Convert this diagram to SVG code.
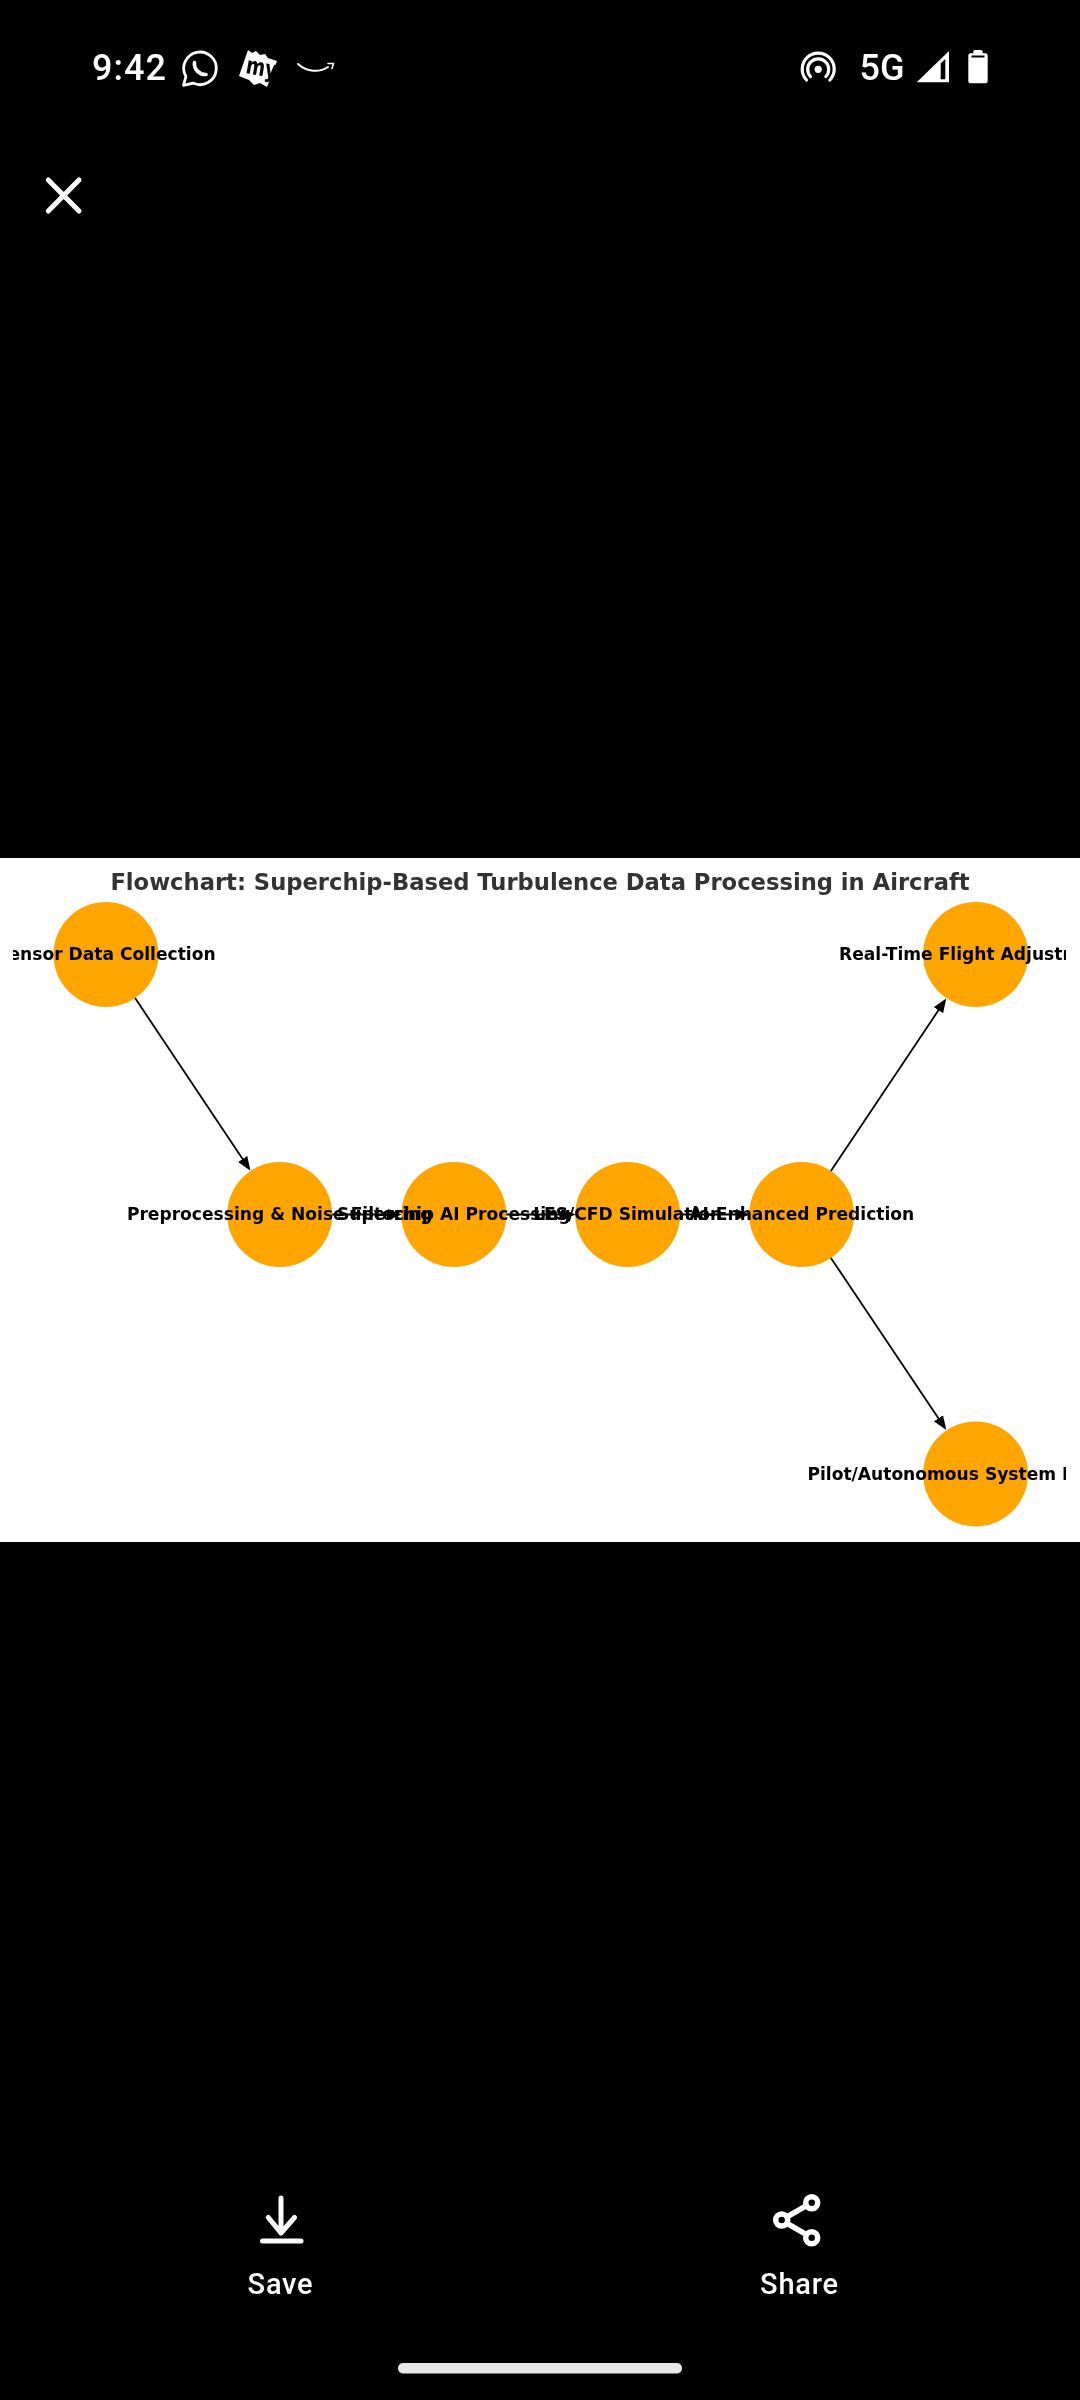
<svg xmlns="http://www.w3.org/2000/svg" width="1080" height="2400" viewBox="0 0 1080 2400">
<style>
.ui{font-family:Roboto,"Liberation Sans",sans-serif;fill:#fff}
.status{font-size:36px;font-weight:500}
.btn{font-size:29px;font-weight:500;text-anchor:middle;letter-spacing:.8px}
.ico{fill:none;stroke:#fff;stroke-linecap:round;stroke-linejoin:round}
.node circle{fill:#ffa500;mix-blend-mode:multiply}
.node text{font-family:"DejaVu Sans",sans-serif;font-size:17.1px;font-weight:700;fill:#000;text-anchor:middle;clip-path:url(#axes)}
.title{font-family:"DejaVu Sans",sans-serif;font-size:22.65px;font-weight:700;fill:#333;text-anchor:middle}
.edge{stroke:#000;stroke-width:1.8;fill:none;marker-end:url(#head)}
</style>
<defs>
<marker id="head" markerUnits="userSpaceOnUse" markerWidth="16" markerHeight="13" refX="11" refY="5.5" orient="auto"><path d="M0,0L14,5.5L0,11Z" fill="#000"/></marker>
<clipPath id="axes" clipPathUnits="userSpaceOnUse"><rect x="13" y="858" width="1053" height="684"/></clipPath>
</defs>
<rect width="1080" height="2400" fill="#000"/>
<g id="status-bar">
<text class="ui status" x="92" y="80" letter-spacing="1">9:42</text>
<g id="icon-whatsapp"><path class="ico" stroke-width="2.8" d="M185.9,76.5A16.3,16.3 0 1 1 193.1,83.1L183.5,85.3Z"/><path class="ico" stroke-width="3.6" d="M194.5,62.5C193.5,69 199.5,75 206,74.5"/></g>
<g id="icon-my"><path fill="#fff" d="M248,50L252,53L256,51L260,55L265,54L268,58L277,61L267,87L260,83L254,85L249,80L239,76Z"/><text transform="translate(245,73) rotate(10)" font-family="'DejaVu Sans Condensed','DejaVu Sans',sans-serif" font-size="24" font-weight="700" fill="#000" textLength="31" lengthAdjust="spacingAndGlyphs">my</text></g>
<g id="icon-amazon"><path class="ico" stroke-width="2" d="M298,64C307,72 319,73 328,67"/><path class="ico" stroke-width="1.6" d="M328,63.5L333.5,63.5L332,68.5"/></g>
<g id="icon-hotspot"><circle cx="818.2" cy="69.3" r="3.6" fill="#fff"/><path class="ico" stroke-width="3.2" d="M810.5,76.5A10.5,10.5 0 1 1 825.9,76.5"/><path class="ico" stroke-width="3.2" d="M806.5,80A16,16 0 1 1 829.9,80"/></g>
<text class="ui status" x="859.5" y="79.5">5G</text>
<g id="icon-signal"><path fill="#fff" d="M916.7,82.3L949,51V82.3Z"/><path fill="#000" d="M940.7,63.5L945.3,59V79.3H940.7Z"/></g>
<g id="icon-battery"><path fill="#fff" d="M973.3,53.3V51.5Q973.3,50 975,50H981Q982.7,50 982.7,51.5V53.3H985.5Q987.7,53.3 987.7,55.5V81Q987.7,83.3 985.5,83.3H970.5Q968.3,83.3 968.3,81V55.5Q968.3,53.3 970.5,53.3Z"/><rect x="971.5" y="55.5" width="13" height="2" fill="#000"/></g>
</g>
<g id="close"><path class="ico" stroke-width="5" d="M48.3,180L79,211M79,180L48.3,211"/></g>
<rect id="chart-bg" x="0" y="858" width="1080" height="684" fill="#fff"/>
<text id="title" class="title" x="540" y="889.8">Flowchart: Superchip-Based Turbulence Data Processing in Aircraft</text>
<g id="connectors">
<path class="edge" d="M135.1,998.1L248.8,1168.2"/>
<path class="edge" d="M332.2,1214.5H398.7"/>
<path class="edge" d="M506.2,1214.5H572.7"/>
<path class="edge" d="M680.2,1214.5H746.7"/>
<path class="edge" d="M830.9,1170.9L944.6,1001.1"/>
<path class="edge" d="M830.9,1257.9L944.6,1427.4"/>
</g>
<g id="node-sensor" class="node"><circle cx="105.9" cy="954.5" r="52.5"/><text x="105.9" y="960.3">Sensor Data Collection</text></g>
<g id="node-preprocessing" class="node"><circle cx="279.7" cy="1214.5" r="52.5"/><text x="279.7" y="1220">Preprocessing &amp; Noise Filtering</text></g>
<g id="node-superchip" class="node"><circle cx="453.8" cy="1214.5" r="52.5"/><text x="453.8" y="1220">Superchip AI Processing</text></g>
<g id="node-les" class="node"><circle cx="627.7" cy="1214.5" r="52.5"/><text x="627.7" y="1220">LES/CFD Simulation</text></g>
<g id="node-ai" class="node"><circle cx="801.7" cy="1214.5" r="52.5"/><text x="801.7" y="1220">AI-Enhanced Prediction</text></g>
<g id="node-flight" class="node"><circle cx="975.6" cy="954.5" r="52.5"/><text x="975.6" y="960.3">Real-Time Flight Adjustment</text></g>
<g id="node-pilot" class="node"><circle cx="975.6" cy="1474" r="52.5"/><text x="975.6" y="1479.7">Pilot/Autonomous System Decision</text></g>
<g id="save"><path class="ico" stroke-width="5" d="M281,2198V2233M268.3,2217.5L281,2233L294.5,2217.5M262.5,2241H301"/><text class="ui btn" x="280.5" y="2294">Save</text></g>
<g id="share"><g class="ico" stroke-width="5.5"><circle cx="781.7" cy="2220" r="6"/><circle cx="811.7" cy="2202.7" r="6"/><circle cx="811.7" cy="2237.7" r="6"/><path d="M787,2216.9L806.5,2205.6M787,2223.3L806.5,2234.6"/></g><text class="ui btn" x="799.5" y="2294">Share</text></g>
<rect id="home-bar" x="398" y="2363" width="284" height="10.5" rx="5" fill="#e8e8e8"/>
</svg>
